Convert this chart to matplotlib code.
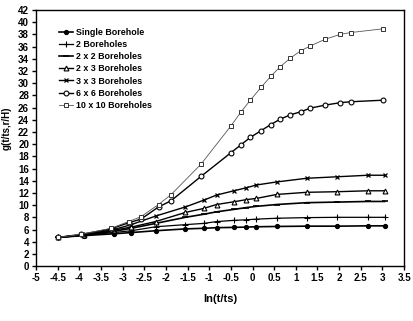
import matplotlib
matplotlib.use("Agg")
import matplotlib.pyplot as plt

plt.rcParams['font.family'] = ['Liberation Sans', 'DejaVu Sans']

# ln(t/ts) points
x_dense = [-4.5, -3.963, -3.27, -2.864, -2.577, -2.171, -1.884, -1.191, -0.497, -0.274,
           -0.051, 0.196, 0.419, 0.642, 0.873, 1.112, 1.335, 1.679, 2.028, 2.275, 3.003]
x_sparse = [-4.5, -3.9, -3.2, -2.8, -2.24, -1.55, -1.13, -0.83, -0.43, -0.14,
            0.09, 0.56, 1.25, 1.96, 2.67, 3.05]

g_single = [4.7, 5.0, 5.3, 5.5, 5.8, 6.1, 6.2, 6.3, 6.35, 6.4, 6.45, 6.5, 6.55, 6.55, 6.6, 6.6]
g_2 = [4.7, 5.05, 5.5, 5.8, 6.45, 6.8, 7.0, 7.3, 7.5, 7.6, 7.7, 7.85, 7.95, 8.0, 8.0, 8.0]
g_2x2 = [4.7, 5.1, 5.7, 6.2, 7.0, 8.0, 8.5, 8.9, 9.3, 9.6, 9.8, 10.1, 10.4, 10.5, 10.6, 10.6]
g_2x3 = [4.7, 5.1, 5.9, 6.4, 7.3, 8.8, 9.45, 10.1, 10.55, 10.9, 11.1, 11.75, 12.1, 12.2, 12.35, 12.35]
g_3x3 = [4.7, 5.1, 6.0, 6.8, 8.2, 9.7, 10.8, 11.65, 12.35, 12.85, 13.3, 13.8, 14.4, 14.65, 14.9, 14.9]
g_6x6 = [4.7, 5.2, 6.1, 7.1, 7.7, 9.7, 10.7, 14.7, 18.6, 19.85, 21.1, 22.2, 23.2, 24.1,
         24.8, 25.3, 25.9, 26.4, 26.8, 26.95, 27.2]
g_10x10 = [4.7, 5.2, 6.2, 7.3, 8.1, 10.1, 11.7, 16.7, 23.0, 25.2, 27.2, 29.3, 31.1, 32.7,
           34.1, 35.3, 36.1, 37.2, 38.0, 38.3, 38.9]

fig = plt.figure(figsize=(4.14, 3.21), dpi=100)
ax = fig.add_axes([0.087, 0.171, 0.889, 0.798])

ax.plot(x_sparse, g_single, color='black', lw=1.2, marker='o', ms=2.8, label='Single Borehole')
ax.plot(x_sparse, g_2, color='black', lw=0.9, marker='+', ms=4.5, mew=0.8, label='2 Boreholes')
ax.plot(x_sparse, g_2x2, color='black', lw=1.2, marker='_', ms=4, mew=1.2, label='2 x 2 Boreholes')
ax.plot(x_sparse, g_2x3, color='black', lw=1.0, marker='^', ms=3.5, mfc='white', mew=0.8,
        label='2 x 3 Boreholes')
ax.plot(x_sparse, g_3x3, color='black', lw=1.0, marker='x', ms=3.5, mew=0.9, label='3 x 3 Boreholes')
ax.plot(x_dense, g_6x6, color='black', lw=1.0, marker='o', ms=3.5, mfc='white', mew=0.8,
        label='6 x 6 Boreholes')
ax.plot(x_dense, g_10x10, color='#555555', lw=0.6, marker='s', ms=3.5, mfc='white', mew=0.7,
        mec='#333333', label='10 x 10 Boreholes')

ax.set_xlim(-5, 3.5)
ax.set_ylim(0, 42)
ax.set_xticks([i * 0.5 - 5 for i in range(18)])
ax.set_xticklabels(['%g' % (i * 0.5 - 5) for i in range(18)])
ax.set_yticks(range(0, 43, 2))
ax.tick_params(direction='out', length=3, width=1, labelsize=7, pad=2)
for lbl in ax.get_xticklabels() + ax.get_yticklabels():
    lbl.set_fontweight('bold')
for s in ax.spines.values():
    s.set_linewidth(1.0)

ax.set_xlabel('ln(t/ts)', fontsize=8, fontweight='bold', labelpad=8)
fig.text(0.016, 0.6, 'g(t/ts,r/H)', rotation=90, fontsize=7, fontweight='bold',
         ha='center', va='center')

leg = ax.legend(loc='upper left', bbox_to_anchor=(0.045, 0.955), frameon=False,
                fontsize=6.4, handlelength=1.6, labelspacing=0.36, handletextpad=0.35,
                borderpad=0.2)
for t in leg.get_texts():
    t.set_fontweight('bold')

fig.savefig('out.png', dpi=100)
